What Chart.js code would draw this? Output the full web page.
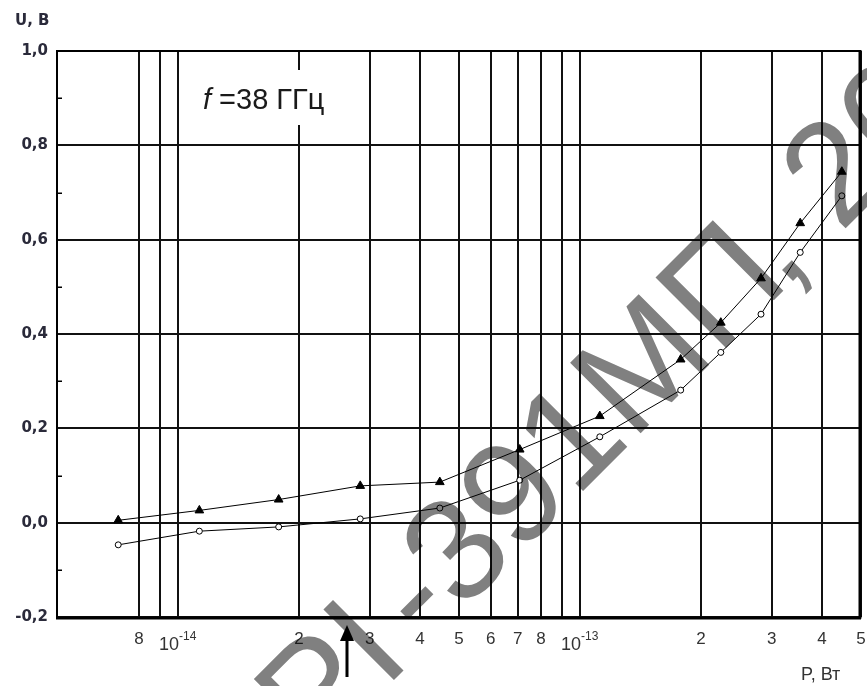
<!DOCTYPE html>
<html>
<head>
<meta charset="utf-8">
<script src="https://cdn.jsdelivr.net/npm/chart.js@4.4.1/dist/chart.umd.min.js"></script>
<style>
  html, body { margin: 0; padding: 0; background: #fff; }
  #wrap { width: 867px; height: 686px; }
</style>
</head>
<body>
<div id="wrap"><canvas id="c" width="867" height="686"></canvas></div>
<script>
// Detector response U (V) versus incident power P (W), f = 38 GHz
const powerW = [7.1e-15, 1.13e-14, 1.78e-14, 2.84e-14, 4.48e-14, 7.08e-14, 1.12e-13, 1.78e-13, 2.24e-13, 2.82e-13, 3.53e-13, 4.48e-13];
const voltsTriangle = [0.005, 0.026, 0.049, 0.078, 0.086, 0.155, 0.226, 0.346, 0.424, 0.518, 0.635, 0.744];
const voltsCircle = [-0.047, -0.018, -0.009, 0.008, 0.031, 0.090, 0.182, 0.281, 0.361, 0.442, 0.573, 0.693];

// Axis ticks
const xTickValues = [8e-15, 9e-15, 1e-14, 2e-14, 3e-14, 4e-14, 5e-14, 6e-14, 7e-14, 8e-14, 9e-14, 1e-13, 2e-13, 3e-13, 4e-13, 5e-13];
const xTickLabels = ['8', '', '', '2', '3', '4', '5', '6', '7', '8', '', '', '2', '3', '4', '5'];
const decadeTicks = [1e-14, 1e-13];
const decadeExponents = ['-14', '-13'];
const yTickValues = [-0.2, 0, 0.2, 0.4, 0.6, 0.8, 1.0];
const yMinorTicks = [-0.1, 0.1, 0.3, 0.5, 0.7, 0.9];

// Power level pointed at by the arrow under the axis
const markedPower = 2.64e-14;

const noteText = { italic: 'f', rest: ' =38 ГГц' };
const yTitle = 'U, В';
const xTitle = 'P, Вт';
// grey stamp printed diagonally over the figure, in runs along one baseline
// (gap = extra spacing before the run)
const stampRuns = [
  { text: 'РI', gap: 0 },
  { text: '-391МП', gap: 20 },
  { text: ', 20', gap: -11 }
];

const decor = {
  id: 'decor',
  beforeDatasetsDraw(chart) {
    const c = chart.ctx, a = chart.chartArea;
    c.save();
    // white panel for the frequency note, interrupting the grid
    c.fillStyle = '#fff';
    c.fillRect(a.left + 138, a.top + 19, 146, 55);
    c.fillStyle = '#1a1a1a';
    c.textBaseline = 'alphabetic';
    c.font = 'italic 29px "Liberation Sans"';
    c.fillText(noteText.italic, a.left + 146, a.top + 58);
    const fw = c.measureText(noteText.italic).width;
    c.font = '29px "Liberation Sans"';
    c.fillText(noteText.rest, a.left + 146 + fw, a.top + 58);

    // frame
    c.strokeStyle = '#000';
    c.lineWidth = 2;
    c.beginPath();
    c.moveTo(a.left, a.bottom); c.lineTo(a.left, a.top); c.lineTo(a.right, a.top);
    c.stroke();
    c.lineWidth = 3;
    c.beginPath();
    c.moveTo(a.right - 1, a.top - 1); c.lineTo(a.right - 1, a.bottom + 1.5);
    c.moveTo(a.left - 1, a.bottom + 1); c.lineTo(a.right, a.bottom + 1);
    c.stroke();

    // minor ticks on the voltage axis
    const ys = chart.scales.y;
    c.lineWidth = 1.5;
    c.beginPath();
    yMinorTicks.forEach(v => {
      const y = Math.round(ys.getPixelForValue(v)) + 0.25;
      c.moveTo(a.left, y); c.lineTo(a.left + 5, y);
    });
    c.stroke();
    c.restore();
  },
  afterDraw(chart) {
    const c = chart.ctx, a = chart.chartArea, xs = chart.scales.x;
    c.save();
    // decade labels 10^n
    c.fillStyle = '#333';
    decadeTicks.forEach((v, i) => {
      const x = xs.getPixelForValue(v);
      c.font = '18px "Liberation Sans"';
      c.textAlign = 'right';
      c.textBaseline = 'alphabetic';
      c.fillText('10', x + 1, a.bottom + 33);
      c.font = '12px "Liberation Sans"';
      c.textAlign = 'left';
      c.fillText(decadeExponents[i], x + 1, a.bottom + 23);
    });

    // axis titles
    c.fillStyle = '#2a2a3a';
    c.font = 'bold 15px "DejaVu Sans"';
    c.textAlign = 'left';
    c.fillText(yTitle, 15, 25);
    c.fillStyle = '#333';
    c.font = '18px "Liberation Sans"';
    c.fillText(xTitle, 801, 680);

    // stamp across the plot
    c.globalCompositeOperation = 'multiply';
    c.fillStyle = '#808080';
    c.font = '145px "Liberation Sans"';
    c.translate(316, 758);
    c.rotate(-45 * Math.PI / 180);
    let along = 0;
    stampRuns.forEach(r => {
      along += r.gap;
      c.fillText(r.text, along, 0);
      along += c.measureText(r.text).width;
    });
    c.setTransform(1, 0, 0, 1, 0, 0);
    c.globalCompositeOperation = 'source-over';

    // arrow marking the power level
    const x = Math.round(xs.getPixelForValue(markedPower));
    c.fillStyle = '#000';
    c.fillRect(x - 1.5, a.bottom + 20, 3, 40);
    c.beginPath();
    c.moveTo(x, a.bottom + 8);
    c.lineTo(x - 7, a.bottom + 24);
    c.lineTo(x + 7, a.bottom + 24);
    c.closePath();
    c.fill();
    c.restore();
  }
};

new Chart(document.getElementById('c').getContext('2d'), {
  type: 'line',
  data: {
    datasets: [
      {
        data: powerW.map((p, i) => ({ x: p, y: voltsTriangle[i] })),
        borderColor: '#000', borderWidth: 1, fill: false, tension: 0,
        pointStyle: 'triangle', pointRadius: 5,
        pointBackgroundColor: '#000', pointBorderColor: '#000', pointBorderWidth: 1
      },
      {
        data: powerW.map((p, i) => ({ x: p, y: voltsCircle[i] })),
        borderColor: '#000', borderWidth: 1, fill: false, tension: 0,
        pointStyle: 'circle', pointRadius: 3,
        pointBackgroundColor: '#fff', pointBorderColor: '#000', pointBorderWidth: 1
      }
    ]
  },
  options: {
    responsive: false,
    animation: false,
    devicePixelRatio: 1,
    layout: { padding: { top: 51, right: 4, bottom: 0, left: 0 } },
    plugins: { legend: { display: false }, tooltip: { enabled: false } },
    scales: {
      x: {
        type: 'logarithmic',
        min: 5e-15, max: 5e-13,
        afterBuildTicks: s => { s.ticks = xTickValues.map(v => ({ value: v })); },
        afterFit: s => { s.height = 69; s.paddingLeft = 0; s.paddingRight = 0; },
        border: { display: false },
        grid: { color: '#111', lineWidth: 2, drawTicks: false },
        ticks: {
          autoSkip: false, maxRotation: 0, minRotation: 0, padding: 12,
          color: '#333', font: { family: 'Liberation Sans', size: 17 },
          callback: (v, i) => xTickLabels[i]
        }
      },
      y: {
        min: -0.2, max: 1.0,
        afterBuildTicks: s => { s.ticks = yTickValues.map(v => ({ value: v })); },
        afterFit: s => { s.width = 57; },
        border: { display: false },
        grid: { color: '#111', lineWidth: 2, drawTicks: false },
        ticks: {
          padding: 9, color: '#2a2a3a',
          font: { family: 'DejaVu Sans', size: 15, weight: 'bold' },
          callback: v => v.toFixed(1).replace('.', ',')
        }
      }
    }
  },
  plugins: [decor]
});
</script>
</body>
</html>
